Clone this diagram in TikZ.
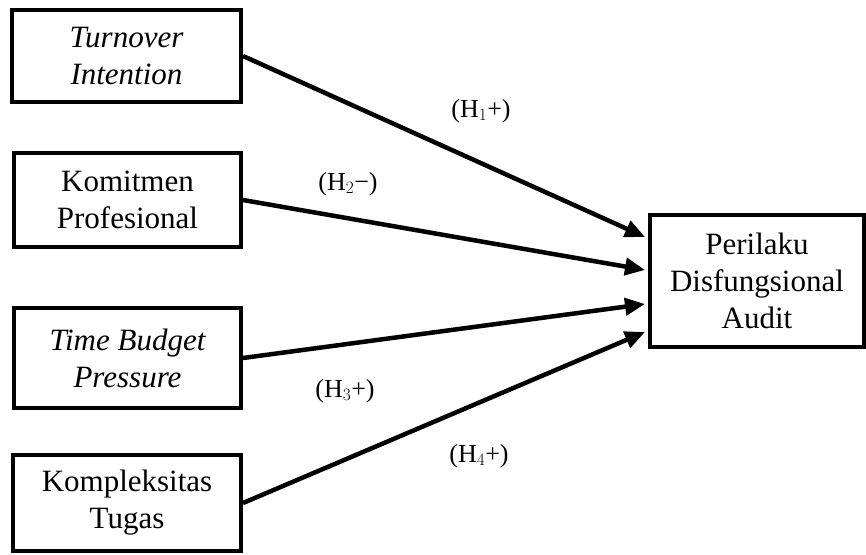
\documentclass[tikz,border=0pt]{standalone}
\usepackage{fontspec}
\setmainfont{Liberation Serif}
\usetikzlibrary{arrows.meta,calc}
\begin{document}
\begin{tikzpicture}[x=1pt,y=-1pt,
  varbox/.style={draw,line width=4pt,align=center,inner sep=0pt,
    font=\fontsize{31}{37}\selectfont},
  link/.style={line width=4.5pt,-{Triangle[length=20pt,width=17pt]}},
  hyp/.style={font=\fontsize{26}{30}\selectfont,inner sep=0pt}]
\useasboundingbox (0,0) rectangle (866,554);
\node[varbox,minimum width=229pt,minimum height=92pt] (a) at (126.5,56) {\itshape Turnover\\\itshape Intention};
\node[varbox,minimum width=227pt,minimum height=94pt] (b) at (127.5,200) {Komitmen\\Profesional};
\node[varbox,minimum width=227pt,minimum height=100pt] (c) at (127.5,358) {\itshape Time Budget\\\itshape Pressure};
\node[varbox,minimum width=228pt,minimum height=96pt] (d) at (127,503) {Kompleksitas\\Tugas};
\node[varbox,minimum width=214pt,minimum height=132pt] (p) at (757,281) {Perilaku\\Disfungsional\\Audit};
\draw[link] (a.east) -- ($(p.west)+(-3,-44)$);
\draw[link] (b.east) -- ($(p.west)+(-3,-11)$);
\draw[link] (c.east) -- ($(p.west)+(-3,23)$);
\draw[link] (d.east) -- ($(p.west)+(-3,51)$);
\node[hyp] (h1) at (481,111) {(H$_1$+)};
\node[hyp] (h2) at (348,184) {(H$_2$−)};
\node[hyp] (h3) at (345,391) {(H$_3$+)};
\node[hyp] (h4) at (479,456) {(H$_4$+)};
\end{tikzpicture}
\end{document}
